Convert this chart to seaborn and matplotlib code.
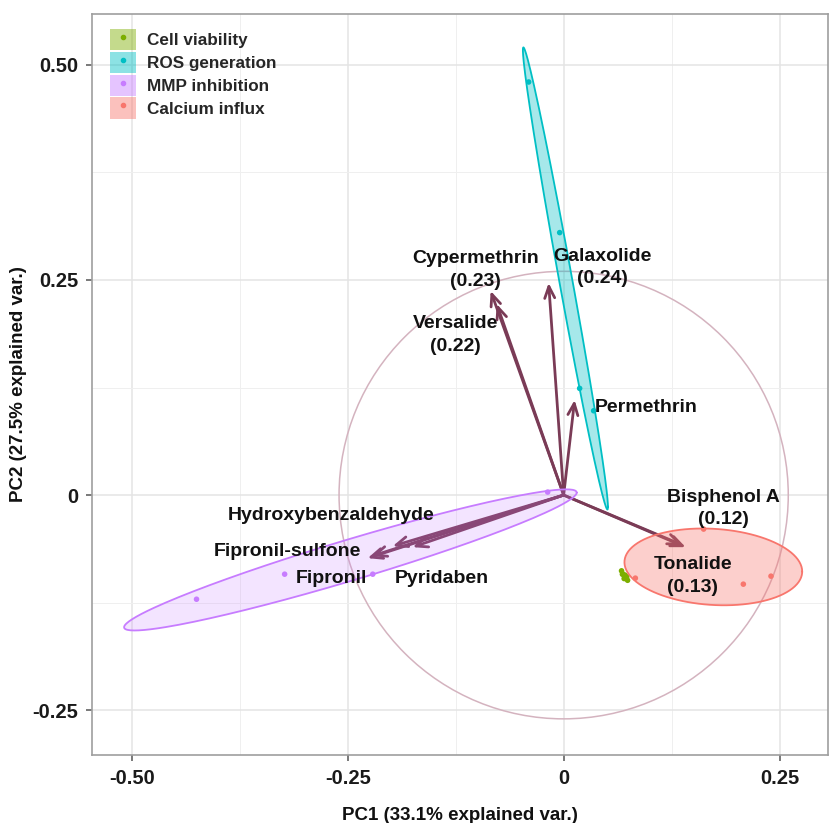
import numpy as np
import pandas as pd
import matplotlib
matplotlib.use("Agg")
import matplotlib.pyplot as plt
import seaborn as sns
from matplotlib.patches import Patch, Circle
from matplotlib.lines import Line2D
from matplotlib.legend_handler import HandlerTuple

# ---------------- data ----------------
groups = ["Cell viability", "ROS generation", "MMP inhibition", "Calcium influx"]
colors = ["#7CAE00", "#00BFC4", "#C77CFF", "#F8766D"]

cell_x = [0.067, 0.071, 0.074, 0.070, 0.068, 0.073]
cell_y = [-0.088, -0.093, -0.099, -0.097, -0.092, -0.095]
ros_x = [-0.0405, -0.0046, 0.0185, 0.0347]
ros_y = [0.480, 0.305, 0.124, 0.098]
mmp_x = [-0.0185, -0.323, -0.221, -0.425]
mmp_y = [0.0035, -0.0919, -0.0919, -0.121]
cal_x = [0.083, 0.162, 0.208, 0.240]
cal_y = [-0.0965, -0.0395, -0.1035, -0.0942]

var_names = ["Cypermethrin", "Versalide", "Galaxolide", "Permethrin", "Tonalide",
             "Bisphenol A", "Fipronil", "Fipronil-sulfone", "Hydroxybenzaldehyde", "Pyridaben"]
arrow_x = [-0.0845, -0.0775, -0.0174, 0.0127, 0.1412, 0.1377, -0.2269, -0.2222, -0.1979, -0.1748]
arrow_y = [0.2372, 0.2221, 0.2465, 0.1105, -0.0605, -0.0581, -0.0733, -0.0709, -0.0593, -0.0605]

label_text = ["Cypermethrin", "(0.23)", "Galaxolide", "(0.24)", "Versalide", "(0.22)",
              "Permethrin", "Bisphenol A", "(0.12)", "Tonalide", "(0.13)",
              "Hydroxybenzaldehyde", "Fipronil-sulfone", "Fipronil", "Pyridaben"]
label_x = [-0.1019, -0.1019, 0.0451, 0.0451, -0.125, -0.125,
           0.0961, 0.1855, 0.1855, 0.1493, 0.1493,
           -0.2697, -0.3194, -0.2685, -0.1412]
label_y = [0.2744, 0.2477, 0.2767, 0.2512, 0.1988, 0.1721,
           0.1023, -0.0023, -0.0279, -0.0802, -0.1070,
           -0.0233, -0.0651, -0.0965, -0.0965]

circle_radius = 0.26
xtick_vals = [-0.50, -0.25, 0.0, 0.25]
xtick_labels = ["-0.50", "-0.25", "0", "0.25"]
ytick_vals = [-0.25, 0.0, 0.25, 0.50]
ytick_labels = ["-0.25", "0", "0.25", "0.50"]
x_title = "PC1 (33.1% explained var.)"
y_title = "PC2 (27.5% explained var.)"

# ---------------- build frame ----------------
df = pd.DataFrame({
    "PC1": cell_x + ros_x + mmp_x + cal_x,
    "PC2": cell_y + ros_y + mmp_y + cal_y,
    "group": ([groups[0]] * len(cell_x) + [groups[1]] * len(ros_x)
              + [groups[2]] * len(mmp_x) + [groups[3]] * len(cal_x)),
})
palette = dict(zip(groups, colors))

sns.set_theme(style="white")
plt.rcParams["font.family"] = ["Liberation Sans", "DejaVu Sans"]

fig = plt.figure(figsize=(8.3, 8.23), dpi=100)
ax = fig.add_axes([92 / 830, 68 / 823, 736 / 830, 741 / 823])
ax.set_xlim(-0.546, 0.306)
ax.set_ylim(-0.302, 0.559)

# grid
ax.set_xticks(xtick_vals)
ax.set_yticks(ytick_vals)
ax.set_xticks([-0.375, -0.125, 0.125], minor=True)
ax.set_yticks([-0.125, 0.125, 0.375], minor=True)
ax.grid(True, which="major", color="#E4E4E4", lw=1.1, zorder=0)
ax.grid(True, which="minor", color="#EFEFEF", lw=0.7, zorder=0)
ax.set_axisbelow(True)
ax.tick_params(which="minor", length=0)

# correlation circle
ax.add_patch(Circle((0, 0), circle_radius, fill=False, ec="#D4B3BF", lw=1.1, zorder=1))

# arrows
arrow_color = "#7A3B56"
for ex, ey in zip(arrow_x, arrow_y):
    ax.annotate("", xy=(ex, ey), xytext=(0, 0),
                arrowprops=dict(arrowstyle="->,head_length=0.7,head_width=0.3",
                                color=arrow_color, lw=2.0, shrinkA=0, shrinkB=0),
                zorder=2)

# points
sns.scatterplot(data=df, x="PC1", y="PC2", hue="group", palette=palette,
                s=16, edgecolor="none", legend=False, ax=ax, zorder=3)

# ellipses (normal data ellipse, prob 0.68)
ed = np.sqrt(-2 * np.log(1 - 0.68))
theta = np.linspace(0, 2 * np.pi, 200)
circ = np.column_stack([np.cos(theta), np.sin(theta)])
fill_alpha = {groups[0]: 0.5, groups[1]: 0.35, groups[2]: 0.2, groups[3]: 0.35}
for g in groups:
    sub = df[df.group == g]
    mu = sub[["PC1", "PC2"]].mean().values
    sigma = np.cov(sub["PC1"], sub["PC2"])
    L = np.linalg.cholesky(sigma)
    pts = circ @ L.T * ed + mu
    ax.fill(pts[:, 0], pts[:, 1], facecolor=palette[g], alpha=fill_alpha[g],
            edgecolor="none", zorder=4)
    ax.plot(pts[:, 0], pts[:, 1], color=palette[g], lw=1.3, zorder=4)

# labels
for t, x, y in zip(label_text, label_x, label_y):
    ax.text(x, y, t, ha="center", va="center", fontsize=14,
            fontweight="bold", color="#111111", zorder=6)

# axes styling
for s in ax.spines.values():
    s.set_color("#9E9E9E")
    s.set_linewidth(1.2)
ax.set_xticklabels(xtick_labels, fontsize=14.5, fontweight="bold", color="#1A1A1A")
ax.set_yticklabels(ytick_labels, fontsize=14.5, fontweight="bold", color="#1A1A1A")
ax.tick_params(which="major", direction="out", length=4, width=1.1, color="#555555",
               bottom=True, left=True, pad=6)
ax.set_xlabel(x_title, fontsize=13.5, fontweight="bold", color="#111111", labelpad=14)
ax.set_ylabel(y_title, fontsize=13.5, fontweight="bold", color="#111111", va="center")
ax.yaxis.set_label_coords((19 - 92) / 736, 0.5)

# legend
handles = []
for g, c in zip(groups, colors):
    handles.append((Patch(facecolor=c, alpha=0.45, edgecolor="none"),
                    Line2D([], [], marker="o", ls="none", color=c, ms=3)))
leg = ax.legend(handles, groups, handler_map={tuple: HandlerTuple(ndivide=1, pad=0)},
                loc="upper left", bbox_to_anchor=((110 - 92) / 736, (755 - 29) / 741),
                frameon=False, prop={"weight": "bold", "size": 12.3},
                handlelength=1.5, handleheight=1.55, handletextpad=0.65,
                labelspacing=0.08, borderpad=0, borderaxespad=0)

fig.savefig("out.png", dpi=100)
